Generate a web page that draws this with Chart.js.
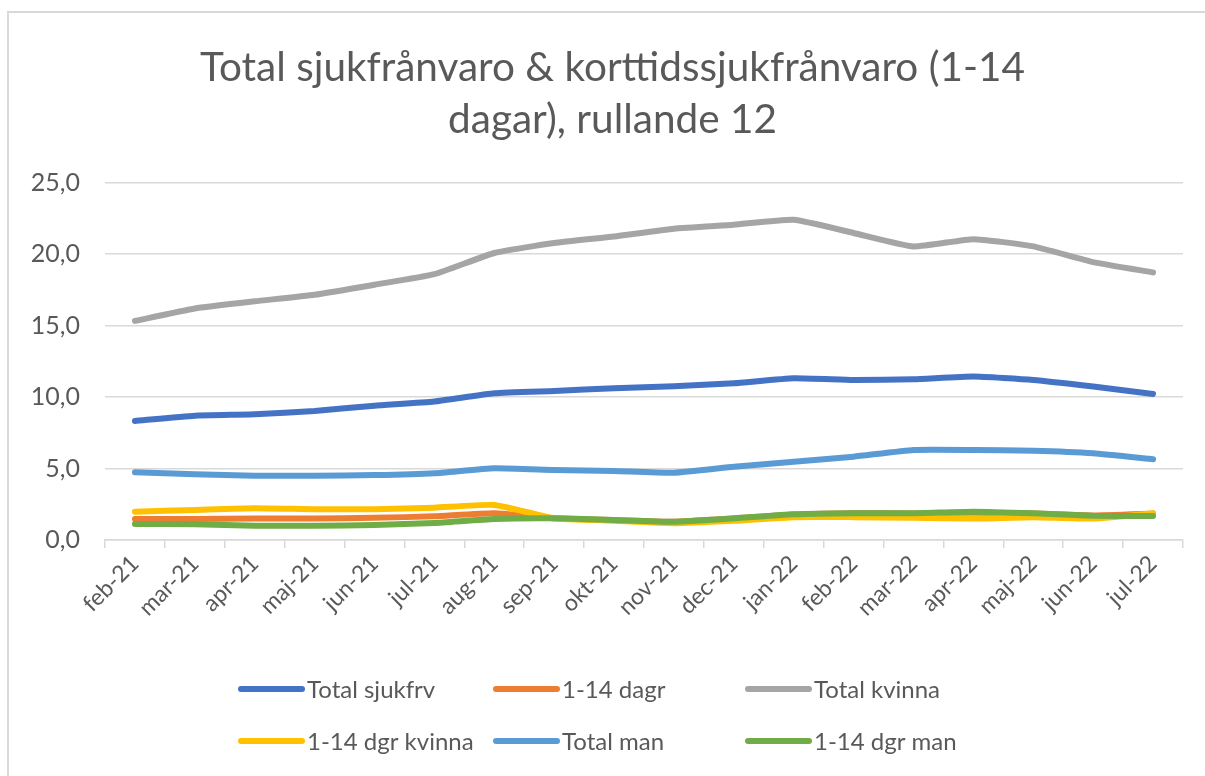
<!DOCTYPE html>
<html>
<head>
<meta charset="utf-8">
<script src="https://cdn.jsdelivr.net/npm/chart.js@4/dist/chart.umd.min.js"></script>
<style>
  html, body { margin: 0; padding: 0; background: #fff; }
  #wrap { position: relative; width: 1205px; height: 776px; overflow: hidden; }
  #frame { position: absolute; left: 7px; top: 11px; width: 1300px; height: 900px; border: 2px solid #d9d9d9; box-sizing: border-box; pointer-events: none; }
  canvas { position: absolute; left: 0; top: 0; }
</style>
</head>
<body>
<div id="wrap">
  <canvas id="c" width="1205" height="776"></canvas>
  <div id="frame"></div>
</div>
<script>
const categories = ["feb-21","mar-21","apr-21","maj-21","jun-21","jul-21","aug-21","sep-21","okt-21","nov-21","dec-21","jan-22","feb-22","mar-22","apr-22","maj-22","jun-22","jul-22"];
const seriesNames = ["Total sjukfrv","1-14 dagr","Total kvinna","1-14 dgr kvinna","Total man","1-14 dgr man"];
const totalSjukfrv = [8.33, 8.7, 8.8, 9.03, 9.4, 9.69, 10.27, 10.43, 10.62, 10.76, 10.97, 11.32, 11.2, 11.25, 11.44, 11.2, 10.74, 10.22];
const dagr114 = [1.47, 1.47, 1.5, 1.5, 1.55, 1.66, 1.87, 1.52, 1.4, 1.28, 1.5, 1.78, 1.88, 1.85, 1.9, 1.85, 1.72, 1.85];
const totalKvinna = [15.33, 16.2, 16.7, 17.16, 17.86, 18.6, 20.08, 20.78, 21.24, 21.78, 22.06, 22.4, 21.48, 20.54, 21.05, 20.54, 19.44, 18.72];
const dgrKvinna = [1.98, 2.1, 2.22, 2.15, 2.15, 2.26, 2.45, 1.52, 1.35, 1.18, 1.35, 1.6, 1.6, 1.56, 1.5, 1.6, 1.5, 1.87];
const totalMan = [4.74, 4.6, 4.5, 4.5, 4.54, 4.67, 5.02, 4.9, 4.83, 4.71, 5.13, 5.48, 5.83, 6.3, 6.3, 6.25, 6.07, 5.65];
const dgrMan = [1.12, 1.1, 1.0, 1.0, 1.05, 1.19, 1.47, 1.52, 1.4, 1.28, 1.52, 1.8, 1.88, 1.87, 1.98, 1.87, 1.7, 1.68];
const yTicks = [0, 5, 10, 15, 20, 25];
const titleLines = ["Total sjukfrånvaro & korttidssjukfrånvaro (1-14", "dagar), rullande 12"];

const colors = ["#4472C4", "#ED7D31", "#A5A5A5", "#FFC000", "#5B9BD5", "#70AD47"];
const allSeries = [totalSjukfrv, dagr114, totalKvinna, dgrKvinna, totalMan, dgrMan];
const FONT = "Lato, 'Open Sans', sans-serif";
const TXT = "#595959";

const datasets = allSeries.map((d, i) => ({
  label: seriesNames[i],
  data: d,
  borderColor: colors[i],
  backgroundColor: colors[i],
  borderWidth: 6,
  borderCapStyle: 'round',
  borderJoinStyle: 'round',
  pointRadius: 0,
  tension: 0.15,
  fill: false,
  order: allSeries.length - i
}));

const titleShift = {
  id: 'titleShift',
  afterLayout(chart) {
    const t = chart.titleBlock;
    if (t) { t.left = 42; t.right = 1183; t.width = t.right - t.left; }
  }
};

const legendPlugin = {
  id: 'gridLegend',
  afterDraw(chart) {
    const ctx = chart.ctx;
    const cols = [238, 493, 745];
    const rows = [689, 741];
    ctx.save();
    ctx.font = "24px " + FONT;
    ctx.textBaseline = 'middle';
    ctx.textAlign = 'left';
    chart.data.datasets.forEach((ds, i) => {
      const x = cols[i % 3], y = rows[Math.floor(i / 3)];
      ctx.strokeStyle = ds.borderColor;
      ctx.lineWidth = 6;
      ctx.lineCap = 'round';
      ctx.beginPath();
      ctx.moveTo(x + 3, y);
      ctx.lineTo(x + 64, y);
      ctx.stroke();
      ctx.fillStyle = TXT;
      ctx.fillText(ds.label, x + 69, y + 1);
    });
    ctx.restore();
  }
};

new Chart(document.getElementById('c'), {
  type: 'line',
  data: { labels: categories, datasets },
  options: {
    responsive: false,
    animation: false,
    layout: { padding: { left: 0, right: 22, top: 0, bottom: 116 } },
    plugins: {
      legend: { display: false },
      tooltip: { enabled: false },
      title: {
        display: true,
        text: titleLines,
        color: TXT,
        font: { family: FONT, size: 40.5, weight: 'normal', lineHeight: 1.28 },
        padding: { top: 42, bottom: 37 }
      }
    },
    scales: {
      x: {
        offset: true,
        afterFit: s => { s.height = 120; },
        grid: { display: true, drawOnChartArea: false, drawTicks: true, tickLength: 8, offset: true, color: "#d9d9d9", lineWidth: 1.5 },
        border: { display: true, color: "#d9d9d9", width: 1.5 },
        ticks: { color: TXT, font: { family: FONT, size: 23 }, minRotation: 45, maxRotation: 45, padding: 2, autoSkip: false }
      },
      y: {
        min: 0, max: 25,
        afterFit: s => { s.width = 105; },
        afterBuildTicks: s => { s.ticks = yTicks.map(v => ({ value: v })); },
        grid: { color: "#d9d9d9", lineWidth: 1.5, drawTicks: false },
        border: { display: false },
        ticks: { color: TXT, font: { family: FONT, size: 25 }, padding: 25, callback: v => Number(v).toFixed(1).replace('.', ',') }
      }
    }
  },
  plugins: [titleShift, legendPlugin]
});
</script>
</body>
</html>
